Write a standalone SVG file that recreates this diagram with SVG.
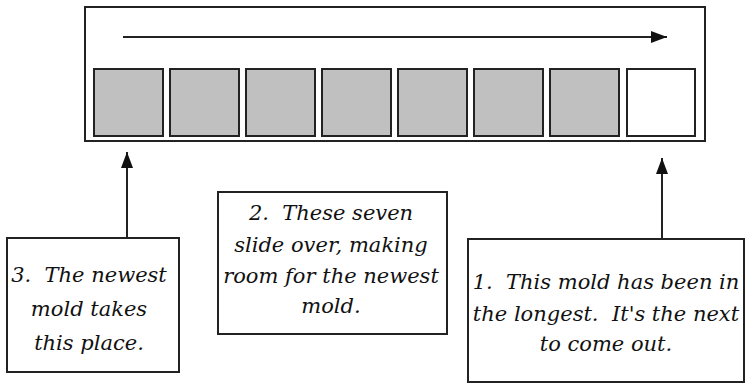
<svg xmlns="http://www.w3.org/2000/svg" width="747" height="383" viewBox="0 0 747 383">
<style>
.box{fill:#fff;stroke:#222;stroke-width:2}
.grey{fill:#c0c0c0;stroke:#222;stroke-width:2}
.white{fill:#fff;stroke:#222;stroke-width:2}
.line{stroke:#222;stroke-width:2;fill:none}
text{font-family:"DejaVu Serif","Liberation Serif",serif;font-style:italic;font-size:21px;fill:#111;text-anchor:middle;white-space:pre}
</style>
<defs>
<marker id="ah2" viewBox="0 0 10 10" refX="10" refY="5" markerWidth="16" markerHeight="12" markerUnits="userSpaceOnUse" orient="auto" preserveAspectRatio="none">
<path d="M0,0 L10,5 L0,10 z" fill="#111"/>
</marker>
</defs>
<g id="container">
<rect class="box" x="85" y="7" width="620" height="134"/>
<rect class="grey" x="94" y="69" width="69" height="67"/>
<rect class="grey" x="170" y="69" width="69" height="67"/>
<rect class="grey" x="246" y="69" width="69" height="67"/>
<rect class="grey" x="322" y="69" width="69" height="67"/>
<rect class="grey" x="398" y="69" width="69" height="67"/>
<rect class="grey" x="474" y="69" width="69" height="67"/>
<rect class="grey" x="550" y="69" width="69" height="67"/>
<rect class="white" x="627" y="69" width="68" height="67"/>
</g>
<g id="connectors">
<line class="line" x1="123" y1="37" x2="667" y2="37" marker-end="url(#ah2)"/>
<line class="line" x1="127" y1="238" x2="127" y2="152" marker-end="url(#ah2)"/>
<line class="line" x1="662" y1="239" x2="662" y2="158" marker-end="url(#ah2)"/>
</g>
<g id="note3">
<rect class="box" x="7" y="238" width="172" height="134"/>
<text x="89" y="282" xml:space="preserve">3.  The newest</text>
<text x="89" y="316">mold takes</text>
<text x="89" y="350">this place.</text>
</g>
<g id="note2">
<rect class="box" x="218" y="192" width="229" height="142"/>
<text x="331" y="220" xml:space="preserve">2.  These seven</text>
<text x="331" y="252">slide over, making</text>
<text x="331" y="283">room for the newest</text>
<text x="331" y="313">mold.</text>
</g>
<g id="note1">
<rect class="box" x="468" y="239" width="276" height="143"/>
<text x="606" y="289" xml:space="preserve">1.  This mold has been in</text>
<text x="606" y="321" xml:space="preserve">the longest.  It's the next</text>
<text x="606" y="351">to come out.</text>
</g>
</svg>
